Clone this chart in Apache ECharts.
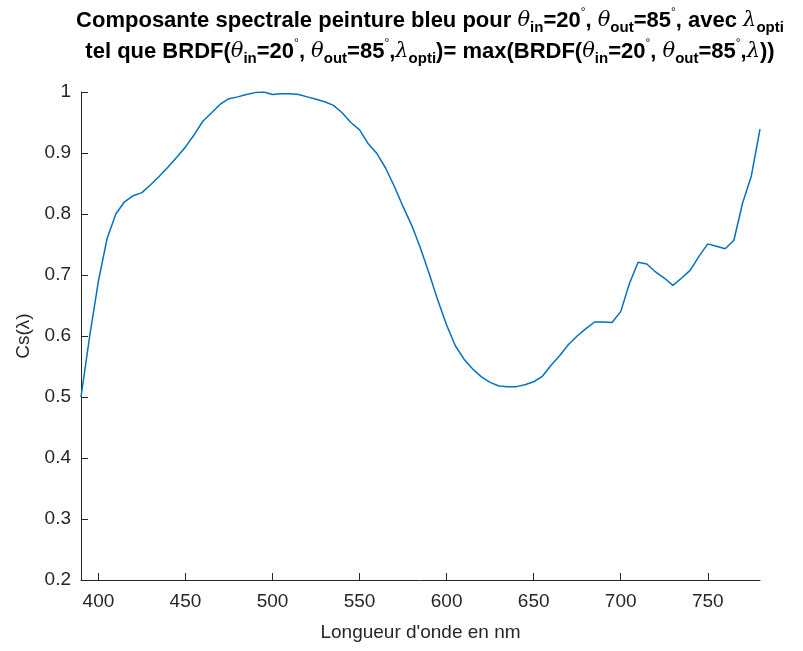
<!DOCTYPE html>
<html>
<head>
<meta charset="utf-8">
<script src="https://cdn.jsdelivr.net/npm/echarts@6/dist/echarts.min.js"></script>
<style>html,body{margin:0;padding:0;background:#fff}#c{width:803px;height:651px}</style>
</head>
<body>
<div id="c"></div>
<script>
const wavelengths = [390,395,400,405,410,415,420,425,430,435,440,445,450,455,460,465,470,475,480,485,490,495,500,505,510,515,520,525,530,535,540,545,550,555,560,565,570,575,580,585,590,595,600,605,610,615,620,625,630,635,640,645,650,655,660,665,670,675,680,685,690,695,700,705,710,715,720,725,730,735,740,745,750,755,760,765,770,775,780];
const csValues = [0.50,0.60,0.69,0.76,0.80,0.82,0.83,0.835,0.848,0.862,0.877,0.893,0.910,0.930,0.952,0.966,0.980,0.989,0.992,0.996,0.999,1.0,0.996,0.997,0.997,0.996,0.992,0.988,0.984,0.978,0.966,0.950,0.938,0.915,0.899,0.875,0.845,0.812,0.781,0.744,0.702,0.658,0.618,0.584,0.562,0.546,0.533,0.524,0.518,0.517,0.517,0.520,0.525,0.534,0.552,0.568,0.586,0.600,0.612,0.623,0.623,0.622,0.640,0.686,0.721,0.718,0.705,0.695,0.683,0.695,0.708,0.731,0.751,0.747,0.743,0.757,0.818,0.862,0.939];
const xTicks = [400,450,500,550,600,650,700,750];
const yTicks = [0.2,0.3,0.4,0.5,0.6,0.7,0.8,0.9,1];

const FONT = "'Liberation Sans', Arial, sans-serif";
const AX = '#262626';
const chart = echarts.init(document.getElementById('c'), null, {renderer: 'canvas'});

const subS = {fontFamily: FONT, fontWeight: 'bold', fontSize: 15, color: '#000', padding: [15, 0, 0, 0]};
const supS = {fontFamily: FONT, fontWeight: 'normal', fontSize: 12, color: '#000', padding: [0, 0, 16, 0]};
const thS = {fontFamily: "'DejaVu Serif', serif", fontStyle: 'italic', fontWeight: 'normal', fontSize: 21, color: '#000'};
const laS = {fontFamily: "'DejaVu Serif', serif", fontStyle: 'italic', fontWeight: 'normal', fontSize: 21, color: '#000'};
const line1 = '{b|Composante spectrale peinture bleu pour }{t|θ}{s|in}{b|=20}{p|°}{b|, }{t|θ}{s|out}{b|=85}{p|°}{b|, avec }{l|λ}{s|opti}';
const line2 = '{b|tel que BRDF(}{t|θ}{s|in}{b|=20}{p|°}{b|, }{t|θ}{s|out}{b|=85}{p|°}{b|,}{l|λ}{s|opti}{b|)= max(BRDF(}{t|θ}{s|in}{b|=20}{p|°}{b|, }{t|θ}{s|out}{b|=85}{p|°}{b|,}{l|λ}{b|))}';

chart.setOption({
  animation: false,
  backgroundColor: '#fff',
  title: {
    left: 425, top: 0, textAlign: 'center',
    text: line1 + '\n' + line2,
    textStyle: {
      fontFamily: FONT, fontWeight: 'bold', fontSize: 22, color: '#000', lineHeight: 31,
      rich: {b: {fontFamily: FONT, fontWeight: 'bold', fontSize: 22, color: '#000'}, s: subS, p: supS, t: thS, l: laS}
    }
  },
  grid: {left: 81, right: 43, top: 92, bottom: 71, containLabel: false},
  xAxis: {
    type: 'value', min: 390, max: 780,
    name: "Longueur d'onde en nm", nameLocation: 'middle', nameGap: 43,
    nameTextStyle: {fontFamily: FONT, fontSize: 19, color: AX},
    axisLine: {show: true, onZero: false, lineStyle: {color: AX, width: 1}},
    axisTick: {show: true, inside: true, length: 7, lineStyle: {color: AX}, customValues: xTicks},
    axisLabel: {fontFamily: FONT, fontSize: 19, color: AX, margin: 12, customValues: xTicks},
    splitLine: {show: false}
  },
  yAxis: {
    type: 'value', min: 0.2, max: 1,
    name: 'Cs(λ)', nameLocation: 'middle', nameGap: 48,
    nameTextStyle: {fontFamily: FONT, fontSize: 19, color: AX},
    axisLine: {show: true, onZero: false, lineStyle: {color: AX, width: 1}},
    axisTick: {show: true, inside: true, length: 7, lineStyle: {color: AX}, customValues: yTicks},
    axisLabel: {fontFamily: FONT, fontSize: 19, color: AX, margin: 10, customValues: yTicks},
    splitLine: {show: false}
  },
  series: [{
    type: 'line',
    data: wavelengths.map((w, i) => [w, csValues[i]]),
    showSymbol: false,
    lineStyle: {color: '#0072BD', width: 1.5},
    clip: true
  }]
});
</script>
</body>
</html>
